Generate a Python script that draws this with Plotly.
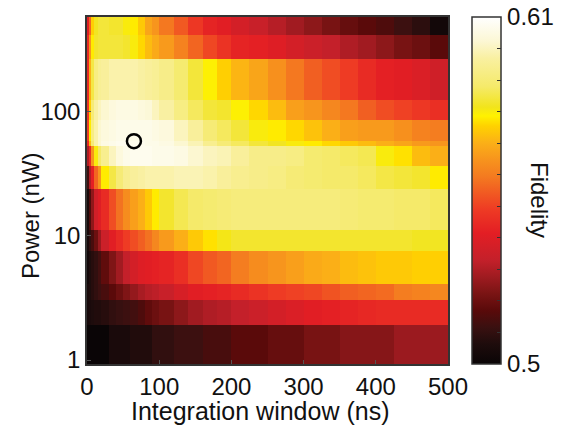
import plotly.graph_objects as go

# ---- data ----
window_edges_ns = [0, 3, 6, 10, 15, 20, 30, 40, 50, 60, 70, 80, 90, 100, 120, 140, 160, 180, 200,
                   225, 250, 275, 300, 325, 350, 375, 400, 425, 450, 475, 500]
power_edges_nW = [0.93, 1.9, 3.05, 4.1, 7.6, 11.2, 24, 36.7, 53, 58.4, 86, 125, 268, 418, 580]

# fidelity rows, bottom (lowest power) to top
row_p01 = [0.500, 0.500, 0.500, 0.500, 0.500, 0.500, 0.505, 0.505, 0.505, 0.507, 0.507, 0.507, 0.510, 0.510, 0.512,
           0.512, 0.514, 0.514, 0.517, 0.517, 0.519, 0.519, 0.522, 0.522, 0.524, 0.524, 0.524, 0.527, 0.527, 0.527]
row_p02 = [0.504, 0.505, 0.506, 0.507, 0.507, 0.508, 0.510, 0.511, 0.512, 0.513, 0.515, 0.518, 0.520, 0.522, 0.525,
           0.528, 0.530, 0.531, 0.533, 0.535, 0.537, 0.539, 0.541, 0.542, 0.543, 0.544, 0.545, 0.545, 0.545, 0.545]
row_p03 = [0.505, 0.506, 0.508, 0.510, 0.512, 0.514, 0.517, 0.520, 0.523, 0.526, 0.529, 0.531, 0.532, 0.534, 0.538,
           0.541, 0.542, 0.543, 0.545, 0.547, 0.549, 0.550, 0.551, 0.553, 0.555, 0.556, 0.557, 0.560, 0.561, 0.562]
row_p04 = [0.503, 0.506, 0.508, 0.510, 0.513, 0.518, 0.523, 0.528, 0.533, 0.537, 0.540, 0.541, 0.542, 0.543, 0.546,
           0.551, 0.554, 0.556, 0.560, 0.563, 0.565, 0.567, 0.569, 0.570, 0.572, 0.573, 0.574, 0.574, 0.575, 0.575]
row_p05 = [0.505, 0.510, 0.514, 0.520, 0.527, 0.535, 0.541, 0.545, 0.549, 0.552, 0.555, 0.558, 0.562, 0.566, 0.570,
           0.574, 0.577, 0.581, 0.583, 0.583, 0.583, 0.583, 0.583, 0.583, 0.583, 0.583, 0.583, 0.583, 0.582, 0.582]
row_p06 = [0.505, 0.515, 0.525, 0.536, 0.540, 0.545, 0.552, 0.558, 0.563, 0.567, 0.570, 0.574, 0.578, 0.583, 0.586,
           0.588, 0.589, 0.590, 0.591, 0.591, 0.591, 0.591, 0.591, 0.591, 0.590, 0.589, 0.589, 0.588, 0.588, 0.587]
row_p07 = [0.513, 0.530, 0.542, 0.556, 0.565, 0.578, 0.585, 0.590, 0.594, 0.596, 0.597, 0.598, 0.598, 0.598, 0.599,
           0.599, 0.598, 0.596, 0.594, 0.593, 0.592, 0.590, 0.589, 0.588, 0.588, 0.587, 0.585, 0.584, 0.583, 0.578]
row_p08 = [0.530, 0.545, 0.565, 0.580, 0.588, 0.594, 0.600, 0.604, 0.606, 0.607, 0.607, 0.607, 0.606, 0.606, 0.605,
           0.602, 0.600, 0.599, 0.596, 0.593, 0.593, 0.592, 0.589, 0.588, 0.587, 0.586, 0.580, 0.577, 0.572, 0.570]
row_p09 = [0.545, 0.572, 0.590, 0.598, 0.602, 0.605, 0.606, 0.607, 0.607, 0.607, 0.607, 0.606, 0.606, 0.605, 0.602,
           0.599, 0.594, 0.590, 0.587, 0.584, 0.582, 0.580, 0.578, 0.576, 0.574, 0.572, 0.570, 0.568, 0.566, 0.565]
row_p10 = [0.550, 0.578, 0.592, 0.598, 0.602, 0.604, 0.605, 0.606, 0.606, 0.606, 0.606, 0.606, 0.605, 0.604, 0.600,
           0.596, 0.590, 0.587, 0.584, 0.580, 0.578, 0.576, 0.573, 0.570, 0.567, 0.566, 0.566, 0.564, 0.561, 0.560]
row_p11 = [0.548, 0.575, 0.590, 0.597, 0.600, 0.602, 0.604, 0.605, 0.605, 0.605, 0.604, 0.603, 0.600, 0.597, 0.592,
           0.587, 0.584, 0.583, 0.579, 0.576, 0.572, 0.567, 0.565, 0.562, 0.559, 0.555, 0.552, 0.550, 0.548, 0.546]
row_p12 = [0.545, 0.570, 0.585, 0.592, 0.595, 0.596, 0.598, 0.598, 0.598, 0.598, 0.597, 0.596, 0.595, 0.593, 0.589,
           0.584, 0.579, 0.575, 0.571, 0.568, 0.564, 0.559, 0.555, 0.552, 0.549, 0.545, 0.542, 0.541, 0.539, 0.536]
row_p13 = [0.545, 0.565, 0.578, 0.583, 0.584, 0.584, 0.584, 0.584, 0.583, 0.580, 0.576, 0.572, 0.569, 0.566, 0.561,
           0.556, 0.551, 0.547, 0.543, 0.542, 0.540, 0.537, 0.535, 0.533, 0.530, 0.528, 0.525, 0.522, 0.520, 0.517]
row_p14 = [0.540, 0.556, 0.575, 0.582, 0.584, 0.584, 0.583, 0.583, 0.580, 0.578, 0.574, 0.568, 0.565, 0.559, 0.554,
           0.548, 0.543, 0.541, 0.537, 0.534, 0.531, 0.528, 0.525, 0.522, 0.519, 0.517, 0.515, 0.512, 0.509, 0.503]

fidelity_rows = [row_p01, row_p02, row_p03, row_p04, row_p05, row_p06, row_p07,
                 row_p08, row_p09, row_p10, row_p11, row_p12, row_p13, row_p14]

best_window_ns = [65]
best_power_nW = [58]

cbar_tickvals = [0.50, 0.51, 0.52, 0.53, 0.54, 0.55, 0.56, 0.57, 0.58, 0.59, 0.60, 0.61]
cbar_ticktext = ["0.5", "", "", "", "", "", "", "", "", "", "", "0.61"]

hot_scale = [[0.0, '#0a0506'], [0.058, '#1e0c0c'], [0.106, '#3a1010'], [0.155, '#5a0a0a'],
             [0.203, '#7a1414'], [0.25, '#9e1b20'], [0.30, '#c4202a'], [0.377, '#e31e24'],
             [0.444, '#ee3a24'], [0.493, '#f15a22'], [0.541, '#f47b20'], [0.589, '#f7941d'],
             [0.638, '#fbb017'], [0.686, '#ffd200'], [0.715, '#fff200'], [0.74, '#f2e41b'],
             [0.80, '#f5ea6a'], [0.88, '#f9f0a0'], [0.93, '#fcf7d4'], [1.0, '#ffffff']]

FONT = "Liberation Sans, Arial, Helvetica, sans-serif"

fig = go.Figure()
fig.add_trace(go.Heatmap(
    x=window_edges_ns, y=power_edges_nW, z=fidelity_rows,
    zmin=0.5, zmax=0.61, colorscale=hot_scale,
    colorbar=dict(
        x=1.0665, xanchor='left', y=0.5, yanchor='middle', len=1.0, lenmode='fraction',
        thickness=29, outlinewidth=1.5, outlinecolor='#333333',
        tickmode='array', tickvals=cbar_tickvals, ticktext=cbar_ticktext,
        ticks='inside', ticklen=4, tickcolor='#333333', tickwidth=1,
        tickfont=dict(family=FONT, size=24, color='#111111'),
        ypad=0, xpad=0,
    ),
    hoverongaps=False,
))
fig.add_trace(go.Scatter(
    x=best_window_ns, y=best_power_nW, mode='markers',
    marker=dict(symbol='circle-open', size=14, color='#000000', line=dict(width=2.5, color='#000000')),
    showlegend=False,
))

fig.update_xaxes(
    range=[0, 500], tickvals=[0, 100, 200, 300, 400, 500],
    ticks='inside', ticklen=4, tickcolor='#555555',
    showline=True, mirror=True, linecolor='#333333', linewidth=1.5,
    showgrid=False, zeroline=False, automargin=False,
    tickfont=dict(family=FONT, size=24, color='#111111'),
)
fig.update_yaxes(
    type='log', range=[-0.0315, 2.7634], tickvals=[1, 10, 100], ticktext=['1', '10', '100'],
    ticks='inside', ticklen=4, tickcolor='#555555',
    showline=True, mirror=True, linecolor='#333333', linewidth=1.5,
    showgrid=False, zeroline=False, automargin=False,
    tickfont=dict(family=FONT, size=24, color='#111111'),
)

fig.update_layout(
    width=561, height=431,
    margin=dict(l=87, r=113, t=17, b=67, autoexpand=False),
    paper_bgcolor='white', plot_bgcolor='white',
    showlegend=False,
    font=dict(family=FONT, size=24, color='#111111'),
    annotations=[
        dict(text='Integration window (ns)', x=0.4806, y=-0.136, xref='paper', yref='paper',
             showarrow=False, xanchor='center', yanchor='middle', font=dict(size=25)),
        dict(text='Power (nW)', x=-0.158, y=0.429, xref='paper', yref='paper', textangle=-90,
             showarrow=False, xanchor='center', yanchor='middle', font=dict(size=24)),
        dict(text='Fidelity', x=1.2548, y=0.4726, xref='paper', yref='paper', textangle=90,
             showarrow=False, xanchor='center', yanchor='middle', font=dict(size=24)),
    ],
)

fig.write_html("out.html", config={'displayModeBar': False},
               post_script="document.body.style.margin='0px';document.body.style.overflow='hidden';")
